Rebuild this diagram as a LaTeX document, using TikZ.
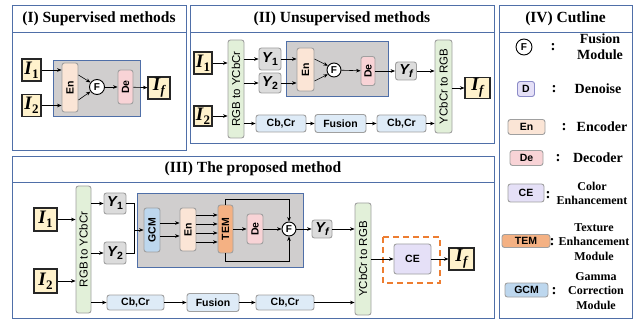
\documentclass[tikz,border=0pt]{standalone}
\usepackage{fontspec}
\setmainfont{Liberation Serif}
\setsansfont{Liberation Sans}
\usetikzlibrary{arrows.meta,calc}

\definecolor{pblue}{HTML}{4F6FA8}
\definecolor{grayfill}{HTML}{D0CECE}
\definecolor{enfill}{HTML}{FBE5D6}
\definecolor{defill}{HTML}{F8D3D6}
\definecolor{yfill}{HTML}{DCDCDC}
\definecolor{greenfill}{HTML}{E2F0D9}
\definecolor{cbfill}{HTML}{DEEBF7}
\definecolor{gcmfill}{HTML}{BDD7EE}
\definecolor{temfill}{HTML}{F4B183}
\definecolor{cefill}{HTML}{E5E0F7}
\definecolor{dline}{HTML}{8C8CC8}
\definecolor{inyellow}{HTML}{FFF2CC}
\definecolor{boxline}{HTML}{A0A0A0}
\definecolor{dashorange}{HTML}{ED7D31}

% image symbols such as I_1, I_f and Y_1
\newcommand\bigsym[2]{{\fontsize{19}{19}\selectfont\bfseries\itshape #1}\kern0.4pt\raisebox{-3.8pt}{\fontsize{13}{13}\selectfont\bfseries #2}}
\newcommand\smallsym[2]{{\fontsize{14.5}{14.5}\selectfont\bfseries\itshape #1}\kern0.3pt\raisebox{-3pt}{\fontsize{10.5}{10.5}\selectfont\bfseries #2}}
\newcommand\vlab[1]{\rotatebox{90}{#1}}

\tikzset{
  x=1pt, y=-1pt,
  sz/.style 2 args={minimum width=#1pt, minimum height=#2pt},
  panel/.style={draw=pblue, line width=0.9pt},
  ptitle/.style={font=\fontsize{15.5}{17}\selectfont\bfseries, inner sep=0pt},
  arr/.style={-{Stealth[length=4.5pt,width=3.6pt]}, line width=0.6pt},
  line/.style={line width=0.6pt},
  mod/.style={draw=boxline, line width=0.9pt, rounded corners=2.5pt, inner sep=0pt,
              font=\sffamily\bfseries\fontsize{10.5}{11}\selectfont},
  img/.style={draw=black!85, fill=inyellow, line width=1.1pt, inner sep=0pt},
  fus/.style={circle, draw=black, line width=0.9pt, fill=white, inner sep=0pt,
              font=\sffamily\bfseries\fontsize{10}{10}\selectfont},
  area/.style={draw=pblue, fill=grayfill, line width=0.9pt},
  enc/.style={mod, fill=enfill},
  dec/.style={mod, fill=defill},
  ybox/.style={mod, fill=yfill},
  conv/.style={mod, fill=greenfill, font=\sffamily\fontsize{11.5}{11.5}\selectfont},
  chan/.style={mod, fill=cbfill},
  gcm/.style={mod, fill=gcmfill},
  tem/.style={mod, fill=temfill},
  ce/.style={mod, fill=cefill},
  colon/.style={font=\bfseries\fontsize{15}{15}\selectfont, inner sep=0pt},
  legA/.style={font=\bfseries\fontsize{14}{16}\selectfont, inner sep=0pt, align=center},
  legB/.style={font=\bfseries\fontsize{12}{14.5}\selectfont, inner sep=0pt, align=center},
}

\begin{document}
\begin{tikzpicture}
\useasboundingbox (0,0) rectangle (634,320);
\fill[white] (0,0) rectangle (634,320);

% ---------- panel frames ----------
\draw[panel] (12,5) rectangle (186,150);  \draw[panel] (12,32) -- (186,32);
\draw[panel] (190,5) rectangle (494,143); \draw[panel] (190,32) -- (494,32);
\draw[panel] (12,156) rectangle (494,318); \draw[panel] (12,182) -- (494,182);
\draw[panel] (499,5) rectangle (632,318); \draw[panel] (499,32) -- (632,32);

\node[ptitle] (tI)   at (99,19)    {(I) Supervised methods};
\node[ptitle] (tII)  at (342,19)   {(II) Unsupervised methods};
\node[ptitle] (tIII) at (253,169)  {(III) The proposed method};
\node[ptitle] (tIV)  at (565.5,19) {(IV) Cutline};

% ---------- (I) supervised ----------
\draw[area] (53,60) rectangle (140,116);
\node[img, sz={19}{22}] (aI1) at (31.5,70)  {\bigsym{I}{1}};
\node[img, sz={19}{22}] (aI2) at (31.5,105.5) {\bigsym{I}{2}};
\node[enc, sz={16}{49}] (aEn) at (70,87.5) {\vlab{En}};
\node[fus, minimum size=15pt] (aF) at (97,87) {F};
\node[dec, sz={15}{34}] (aDe) at (125.5,87) {\vlab{De}};
\node[img, sz={22}{22}] (aIf) at (159,88) {\bigsym{I}{\itshape f}};
\draw[arr] (aI1.east) -- (aI1.east -| aEn.west);
\draw[arr] (aI2.east) -- (aI2.east -| aEn.west);
\draw[arr] (aEn.east |- 0,75) -- (aF.145);
\draw[arr] (aEn.east |- 0,100) -- (aF.215);
\draw[arr] (aF) -- (aDe);
\draw[arr] (aDe) -- (aIf);

% ---------- (II) unsupervised ----------
\draw[area] (286,41) rectangle (388,96);
\node[img, sz={18}{22}] (bI1) at (203,63) {\bigsym{I}{1}};
\node[img, sz={18}{20}] (bI2) at (203,116) {\bigsym{I}{2}};
\node[conv, sz={16}{98}] (bRGB) at (236,89) {\vlab{RGB to YCbCr}};
\node[ybox, sz={22}{22}] (bY1) at (270,59) {\smallsym{Y}{1}};
\node[ybox, sz={22}{20}] (bY2) at (270,83) {\smallsym{Y}{2}};
\node[enc, sz={17}{43}] (bEn) at (305.5,69.5) {\vlab{En}};
\node[fus, minimum size=14pt] (bF) at (334,70) {F};
\node[dec, sz={14}{29}] (bDe) at (368,71) {\vlab{De}};
\node[ybox, sz={21}{18}] (bYf) at (406,71) {\smallsym{Y}{\itshape f}};
\node[conv, sz={17}{93}] (bYC) at (443.5,86.5) {\vlab{YCbCr to RGB}};
\node[img, sz={25}{21}] (bIf) at (477.5,88) {\bigsym{I}{\itshape f}};
\node[chan, sz={50}{17}] (bCb1) at (281,123.5) {Cb,Cr};
\node[chan, sz={51}{18}] (bFu) at (340.5,123.5) {Fusion};
\node[chan, sz={49}{17}] (bCb2) at (401.5,123.5) {Cb,Cr};
\draw[arr] (bI1.east) -- (bI1.east -| bRGB.west);
\draw[arr] (bI2.east) -- (bI2.east -| bRGB.west);
\draw[arr] (bY1.west -| bRGB.east) -- (bY1.west);
\draw[arr] (bY2.west -| bRGB.east) -- (bY2.west);
\draw[arr] (bY1.east) -- (bY1.east -| bEn.west);
\draw[arr] (bY2.east) -- (bY2.east -| bEn.west);
\draw[arr] (bEn.east |- 0,59) -- (bF.145);
\draw[arr] (bEn.east |- 0,81) -- (bF.215);
\draw[arr] (bF) -- (bDe);
\draw[arr] (bDe.east |- bYf.west) -- (bYf.west);
\draw[arr] (bYf.east) -- (bYf.east -| bYC.west);
\draw[arr] (bIf.west -| bYC.east) -- (bIf.west);
\draw[arr] (bCb1.west -| bRGB.east) -- (bCb1.west);
\draw[arr] (bCb1) -- (bFu);
\draw[arr] (bFu) -- (bCb2);
\draw[arr] (bCb2.east) -- (bCb2.east -| bYC.west);

% ---------- (III) proposed ----------
\draw[area] (137,193) rectangle (303,267);
\draw[dashorange, line width=1.3pt, dash pattern=on 6pt off 4pt] (383,237) rectangle (440,283);
\node[img, sz={23}{23}] (cI1) at (45.5,219.5) {\bigsym{I}{1}};
\node[img, sz={23}{24}] (cI2) at (45.5,281) {\bigsym{I}{2}};
\node[conv, sz={15}{127}] (cRGB) at (83.5,249.5) {\vlab{RGB to YCbCr}};
\node[ybox, sz={22}{21}] (cY1) at (115,203.5) {\smallsym{Y}{1}};
\node[ybox, sz={22}{22}] (cY2) at (115,253) {\smallsym{Y}{2}};
\coordinate (cJoin) at (134,230);
\node[gcm, sz={16}{44}] (cGCM) at (152,230) {\vlab{GCM}};
\node[enc, sz={16}{43}] (cEn) at (188,229.5) {\vlab{En}};
\node[tem, sz={15}{48}] (cTEM) at (225.5,229) {\vlab{TEM}};
\node[dec, sz={16}{30}] (cDe) at (255,229) {\vlab{De}};
\node[fus, minimum size=14pt] (cF) at (289,229) {F};
\node[ybox, sz={20}{18}] (cYf) at (322,229) {\smallsym{Y}{\itshape f}};
\node[conv, sz={16}{112}] (cYC) at (363,259) {\vlab{YCbCr to RGB}};
\node[ce, sz={37}{30}] (cCE) at (412.5,259) {CE};
\node[img, sz={25}{22}] (cIf) at (461.5,259) {\bigsym{I}{\itshape f}};
\node[chan, sz={57}{15}] (cCb1) at (135.5,302.5) {Cb,Cr};
\node[chan, sz={52}{18}] (cFu) at (213,302.5) {Fusion};
\node[chan, sz={58}{15}] (cCb2) at (285,302.5) {Cb,Cr};
\draw[arr] (cI1.east) -- (cI1.east -| cRGB.west);
\draw[arr] (cI2.east) -- (cI2.east -| cRGB.west);
\draw[arr] (cY1.west -| cRGB.east) -- (cY1.west);
\draw[arr] (cY2.west -| cRGB.east) -- (cY2.west);
\draw[line] (cY1.east) -| (cJoin);
\draw[line] (cY2.east) -| (cJoin);
\draw[arr] (cJoin) -- (cGCM.west);
\foreach \yy in {223,236} \draw[arr] (cGCM.east |- 0,\yy) -- (cEn.west |- 0,\yy);
\foreach \yy in {215,224,233,242} \draw[arr] (cEn.east |- 0,\yy) -- (cTEM.west |- 0,\yy);
\draw[arr] (cTEM) -- (cDe);
\draw[arr] (cDe) -- (cF);
\draw[arr] (cTEM.north) -- (cTEM.north |- 0,199) -| (cF.north);
\draw[arr] (cTEM.south) -- (cTEM.south |- 0,261) -| (cF.south);
\draw[arr] (cF) -- (cYf);
\draw[arr] (cYf.east) -- (cYf.east -| cYC.west);
\draw[arr] (cCE.west -| cYC.east) -- (cCE.west);
\draw[arr] (cCE) -- (cIf);
\draw[arr] (cCb1.west -| cRGB.east) -- (cCb1.west);
\draw[arr] (cCb1) -- (cFu);
\draw[arr] (cFu) -- (cCb2);
\draw[arr] (cCb2.east) -- (cCb2.east -| cYC.west);

% ---------- (IV) cutline ----------
\node[fus, minimum size=16pt] (dF) at (524,47) {F};
\node[colon] (dFc) at (553,47) {:};
\node[legA] (dFt) at (600,47) {Fusion\\Module};

\node[mod, fill=cefill, draw=dline, sz={17}{15}] (dD) at (526,89) {D};
\node[colon] (dDc) at (554,89) {:};
\node[legA] (dDt) at (598,89) {Denoise};

\node[enc, sz={37}{15}] (dEn) at (526.5,127) {En};
\node[colon] (dEnc) at (564,127) {:};
\node[legA] (dEnt) at (602,127) {Encoder};

\node[dec, sz={33}{15}] (dDe) at (526.5,158) {De};
\node[colon] (dDec) at (558,158) {:};
\node[legA] (dDet) at (598,158) {Decoder};

\node[ce, sz={36}{18}] (dCE) at (526,193) {CE};
\node[colon] (dCEc) at (548,195) {:};
\node[legB] (dCEt) at (592,193.5) {Color\\Enhancement};

\node[tem, sz={48}{13}] (dTEM) at (526,241) {TEM};
\node[colon] (dTEMc) at (552,242) {:};
\node[legB] (dTEMt) at (594,242) {Texture\\Enhancement\\Module};

\node[gcm, sz={43}{14}] (dGCM) at (526.5,290) {GCM};
\node[colon] (dGCMc) at (554,291) {:};
\node[legB] (dGCMt) at (596,291) {Gamma\\Correction\\Module};
\end{tikzpicture}
\end{document}
